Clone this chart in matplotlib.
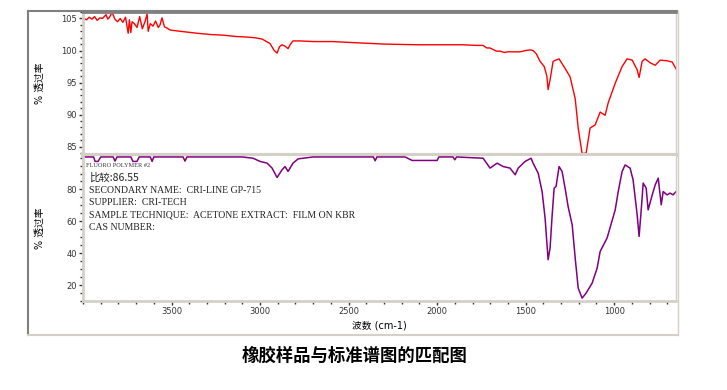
import matplotlib
matplotlib.use("Agg")
import matplotlib.pyplot as plt
from matplotlib.lines import Line2D
from matplotlib.ticker import MultipleLocator

# --- adatok ---
# minta (piros) spektrum: hullámszám, % áteresztés
minta_wn = [3995, 3980, 3965, 3950, 3935, 3920, 3905, 3890, 3870, 3860, 3850, 3836,
            3820, 3805, 3790, 3775, 3760, 3745, 3738, 3730, 3723, 3710, 3695, 3680,
            3665, 3650, 3638, 3632, 3620, 3605, 3590, 3575, 3565, 3554, 3540, 3525,
            3508, 3450, 3356, 3280, 3209, 3140, 3073, 3030, 2989, 2944, 2920, 2904,
            2890, 2876, 2860, 2842, 2828, 2814, 2774, 2700, 2593, 2446, 2294, 2100,
            1853, 1780, 1740, 1720, 1701, 1680, 1665, 1644, 1620, 1600, 1588, 1560,
            1531, 1500, 1475, 1458, 1440, 1418, 1395, 1380, 1373, 1362, 1345, 1330,
            1311, 1295, 1277, 1249, 1220, 1203, 1181, 1158, 1136, 1107, 1079, 1051,
            1034, 994, 955, 927, 898, 870, 859, 842, 825, 797, 768, 740, 701, 672, 650]
minta_t = [105.0, 104.8, 105.2, 104.9, 105.3, 104.7, 105.1, 105.0, 105.6, 104.9, 105.2, 106.0,
           104.9, 104.5, 105.0, 104.4, 105.2, 102.7, 104.8, 102.8, 104.5, 104.2, 103.6, 105.3,
           103.4, 104.5, 105.7, 103.0, 104.2, 103.8, 104.6, 103.6, 104.0, 105.1, 103.7, 103.5,
           103.2, 103.0, 102.7, 102.5, 102.4, 102.2, 102.1, 102.0, 101.8, 101.1, 100.0, 99.6,
           100.6, 100.9, 100.7, 100.3, 101.0, 101.5, 101.5, 101.4, 101.4, 101.2, 101.0, 100.9,
           100.9, 100.8, 100.8, 100.4, 100.4, 100.1, 99.9, 99.9, 99.7, 99.8, 99.8, 99.8,
           99.8, 100.0, 100.1, 100.0, 99.5, 98.3, 97.5, 96.0, 93.9, 95.4, 98.3, 98.5,
           98.7, 98.0, 97.2, 95.9, 92.5, 87.9, 83.9, 84.0, 87.9, 88.4, 90.4, 89.9,
           91.8, 94.9, 97.5, 98.7, 98.5, 97.0, 95.8, 98.3, 98.7, 98.1, 97.7, 98.5, 98.4, 98.2, 97.1]

# standard (lila) spektrum
std_wn = [3995, 3940, 3932, 3915, 3900, 3830, 3819, 3808, 3730, 3718, 3695, 3683,
          3620, 3610, 3600, 3435, 3424, 3413, 3100, 3040, 3000, 2960, 2932, 2904,
          2876, 2859, 2842, 2814, 2785, 2700, 2360, 2350, 2340, 2181, 2141, 2000,
          1990, 1910, 1900, 1890, 1740, 1701, 1661, 1627, 1588, 1559, 1542, 1503,
          1469, 1458, 1429, 1407, 1390, 1373, 1362, 1350, 1339, 1328, 1311, 1294,
          1277, 1260, 1237, 1220, 1203, 1181, 1158, 1124, 1096, 1079, 1040, 994,
          977, 955, 938, 910, 893, 870, 859, 842, 836, 819, 808, 785, 768, 751,
          734, 723, 701, 684, 667, 650]
std_t = [100.4, 100.4, 97.6, 97.6, 100.4, 100.4, 97.8, 100.4, 100.4, 97.6, 97.6, 100.4,
         100.4, 97.6, 100.4, 100.4, 97.8, 100.4, 100.4, 99.6, 97.6, 96.5, 93.4, 87.5,
         92.3, 94.4, 91.3, 96.5, 99.2, 100.4, 100.4, 98.0, 100.4, 100.4, 98.2, 98.2,
         100.4, 100.4, 98.6, 100.4, 99.6, 93.4, 96.5, 94.4, 93.4, 89.2, 93.4, 97.6,
         99.6, 96.5, 90.2, 78.7, 62.0, 35.9, 43.2, 64.1, 80.8, 81.9, 94.4, 91.3,
         80.8, 69.3, 57.8, 36.9, 18.1, 11.8, 15.0, 21.3, 30.7, 41.1, 49.5, 67.2,
         78.7, 91.3, 95.4, 93.4, 86.0, 64.1, 50.5, 74.5, 84.0, 80.8, 67.2, 76.6, 82.9, 87.1,
         70.4, 78.7, 76.6, 77.7, 76.6, 78.7]

x_ticks = [3500, 3000, 2500, 2000, 1500, 1000]
top_yticks = [85, 90, 95, 100, 105]
bot_yticks = [20, 40, 60, 80]

info_lines = ["SECONDARY NAME:  CRI-LINE GP-715",
              "SUPPLIER:  CRI-TECH",
              "SAMPLE TECHNIQUE:  ACETONE EXTRACT:  FILM ON KBR",
              "CAS NUMBER:"]

# --- diagram ---
plt.rcParams["font.family"] = ["DejaVu Sans", "Noto Sans CJK SC"]
dark = "#808080"
light = "#d4d0c8"

fig = plt.figure(figsize=(7.27, 3.9), dpi=100, facecolor="white")
ax1 = fig.add_axes([0.1142, 0.6026, 0.8158, 0.3664])
ax2 = fig.add_axes([0.1142, 0.2282, 0.8158, 0.3718])

ax1.plot(minta_wn, minta_t, color="#ff0000", lw=1.0)
ax2.plot(std_wn, std_t, color="#800080", lw=1.1)

for ax in (ax1, ax2):
    ax.set_xlim(4000, 650)
    ax.xaxis.set_minor_locator(MultipleLocator(100))
    ax.tick_params(axis="both", which="major", length=3, width=1, labelsize=6, colors="#333333", pad=1.5)
    ax.tick_params(axis="both", which="minor", length=2, width=1, colors="#333333")
    ax.spines["left"].set_color(light)
    ax.spines["left"].set_linewidth(2)
    ax.spines["right"].set_color(light)
    ax.spines["right"].set_linewidth(1)

ax1.set_ylim(83.7, 106)
ax1.set_yticks(top_yticks)
ax1.yaxis.set_minor_locator(MultipleLocator(1))
ax1.tick_params(axis="x", which="both", bottom=False, labelbottom=False)
ax1.spines["top"].set_color(dark)
ax1.spines["top"].set_linewidth(2)
ax1.spines["bottom"].set_color(light)
ax1.spines["bottom"].set_linewidth(3)
ax1.spines["bottom"].set_zorder(5)

ax2.set_ylim(10, 101)
ax2.set_yticks(bot_yticks)
ax2.yaxis.set_minor_locator(MultipleLocator(5))
ax2.set_xticks(x_ticks)
ax2.spines["top"].set_visible(False)
ax2.spines["bottom"].set_color(light)
ax2.spines["bottom"].set_linewidth(2)

ax1.set_ylabel("% 透过率", fontsize=7)
ax2.set_ylabel("% 透过率", fontsize=7)
ax1.yaxis.set_label_coords(-0.064, 0.5)
ax2.yaxis.set_label_coords(-0.064, 0.5)
ax2.set_xlabel("波数 (cm-1)", fontsize=7, labelpad=3)

# szöveges adatok az alsó panelen
szoveg_font = ["Liberation Serif", "Noto Sans CJK SC"]
ax2.text(0.005, 0.935, "FLUORO POLYMER #2", transform=ax2.transAxes, fontsize=4.5,
         family=szoveg_font, color="#333333", va="center")
ax2.text(0.01, 0.85, "比较:86.55", transform=ax2.transAxes, fontsize=7.5,
         family=["Noto Sans CJK SC"], color="#222222", va="center")
for i, sor in enumerate(info_lines):
    ax2.text(0.01, 0.765 - i * 0.085, sor, transform=ax2.transAxes, fontsize=7,
             family=szoveg_font, color="#222222", va="center")

# külső keret
fig.add_artist(Line2D([28 / 727, 28 / 727], [1 - 335 / 390, 1 - 11 / 390], color=dark, lw=1.5))
fig.add_artist(Line2D([28 / 727, 677 / 727], [1 - 11 / 390, 1 - 11 / 390], color=dark, lw=1.5))
fig.add_artist(Line2D([28 / 727, 678 / 727], [1 - 335 / 390, 1 - 335 / 390], color=light, lw=1.5))
fig.add_artist(Line2D([677.5 / 727, 677.5 / 727], [1 - 335 / 390, 1 - 11 / 390], color=light, lw=1))

fig.text(0.488, 1 - 356 / 390, "橡胶样品与标准谱图的匹配图", ha="center", va="center",
         fontsize=12.5, fontweight="bold", family=["Noto Sans CJK SC"])

fig.savefig("out.png", dpi=100)
